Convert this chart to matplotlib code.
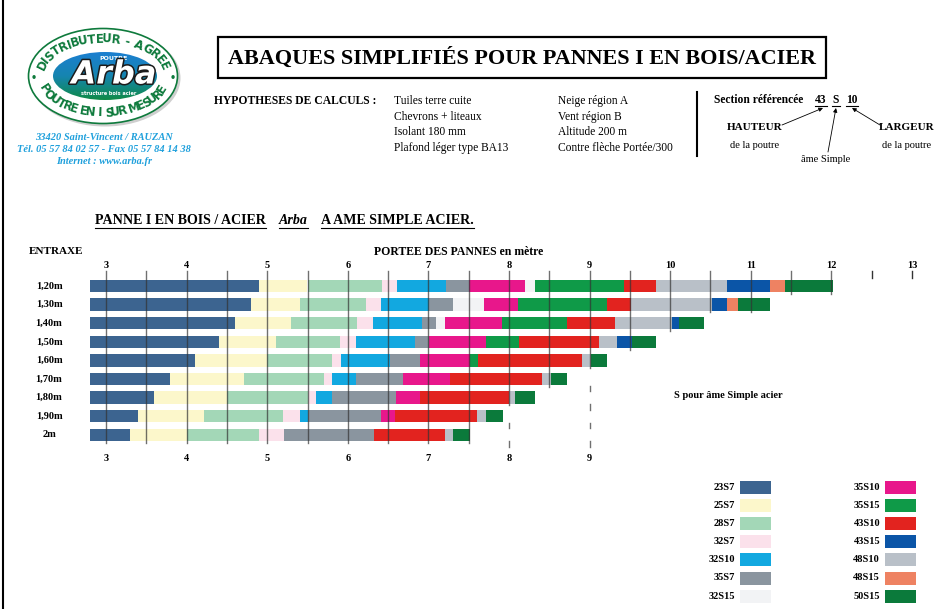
import numpy as np
import matplotlib
matplotlib.use("Agg")
import matplotlib.pyplot as plt
from matplotlib.patches import Ellipse, Rectangle
from matplotlib.colors import LinearSegmentedColormap
from matplotlib.textpath import TextPath
from matplotlib import patheffects as pe
from matplotlib import font_manager as fm

plt.rcParams["font.family"] = ["Liberation Serif", "DejaVu Serif"]

W, H = 939, 609

# --- data -------------------------------------------------------------
entraxes = ["1,20m", "1,30m", "1,40m", "1,50m", "1,60m", "1,70m", "1,80m", "1,90m", "2m"]

sections = ["23S7", "25S7", "28S7", "32S7", "32S10", "35S7", "32S15",
            "35S10", "35S15", "43S10", "43S15", "48S10", "48S15", "50S15"]
section_colors = ["#3c6490", "#fcf7cb", "#a3d7b7", "#fbe1eb", "#12a8e0", "#8a959f", "#f2f3f5",
                  "#e8178b", "#0f9a48", "#e2231f", "#0b55a7", "#b9c0c8", "#ee8262", "#0b7a3b"]

legend_left = ["23S7", "25S7", "28S7", "32S7", "32S10", "35S7", "32S15"]
legend_right = ["35S10", "35S15", "43S10", "43S15", "48S10", "48S15", "50S15"]

span_start = 2.8

row_sections = [
    ["23S7", "25S7", "28S7", "32S7", "32S10", "35S7", "35S10", "32S15", "35S15", "43S10", "48S10", "43S15", "48S15", "50S15"],
    ["23S7", "25S7", "28S7", "32S7", "32S10", "35S7", "32S15", "35S10", "35S15", "43S10", "48S10", "43S15", "48S15", "50S15"],
    ["23S7", "25S7", "28S7", "32S7", "32S10", "35S7", "32S15", "35S10", "35S15", "43S10", "48S10", "43S15", "50S15"],
    ["23S7", "25S7", "28S7", "32S7", "32S10", "35S7", "35S10", "35S15", "43S10", "48S10", "43S15", "50S15"],
    ["23S7", "25S7", "28S7", "32S7", "32S10", "35S7", "35S10", "35S15", "43S10", "48S10", "50S15"],
    ["23S7", "25S7", "28S7", "32S7", "32S10", "35S7", "35S10", "43S10", "48S10", "50S15"],
    ["23S7", "25S7", "28S7", "32S7", "32S10", "35S7", "35S10", "43S10", "48S10", "50S15"],
    ["23S7", "25S7", "28S7", "32S7", "32S10", "35S7", "35S10", "43S10", "48S10", "50S15"],
    ["23S7", "25S7", "28S7", "32S7", "35S7", "43S10", "48S10", "50S15"],
]
row_ends = [
    [4.90, 5.50, 6.42, 6.61, 7.22, 7.50, 8.20, 8.32, 9.43, 9.82, 10.71, 11.24, 11.43, 12.02],
    [4.80, 5.41, 6.22, 6.41, 7.01, 7.31, 7.69, 8.11, 9.21, 9.51, 10.52, 10.71, 10.84, 11.24],
    [4.60, 5.30, 6.11, 6.31, 6.92, 7.10, 7.20, 7.91, 8.72, 9.31, 10.02, 10.11, 10.42],
    [4.40, 5.11, 5.90, 6.10, 6.83, 7.01, 7.71, 8.12, 9.12, 9.34, 9.52, 9.82],
    [4.10, 5.00, 5.81, 5.91, 6.52, 6.90, 7.51, 7.61, 8.91, 9.02, 9.21],
    [3.80, 4.71, 5.70, 5.81, 6.10, 6.69, 7.27, 8.41, 8.52, 8.72],
    [3.60, 4.50, 5.50, 5.61, 5.81, 6.60, 6.90, 8.00, 8.07, 8.32],
    [3.40, 4.21, 5.19, 5.41, 5.51, 6.41, 6.59, 7.60, 7.71, 7.93],
    [3.30, 4.00, 4.90, 5.21, 6.33, 7.21, 7.31, 7.51],
]

top_ticks = list(range(3, 14))
bottom_ticks = list(range(3, 10))

hyp_col1 = ["Tuiles terre cuite", "Chevrons + liteaux", "Isolant 180 mm", "Plafond léger type BA13"]
hyp_col2 = ["Neige région A", "Vent région B", "Altitude 200 m", "Contre flèche Portée/300"]

color_of = dict(zip(sections, section_colors))

fig = plt.figure(figsize=(W / 100, H / 100), dpi=100)

# --- chart axes ---------------------------------------------------------
px_per_m = 80.6
x0_px, x3_px = 80, 106
row0_px, pitch = 286, 18.6
ax_top, ax_bot = 250, 470
ax = fig.add_axes([x0_px / W, 1 - ax_bot / H, (935 - x0_px) / W, (ax_bot - ax_top) / H])
ax.set_xlim(3 - (x3_px - x0_px) / px_per_m, 3 + (935 - x3_px) / px_per_m)
ax.set_ylim((ax_bot - row0_px) / pitch, (ax_top - row0_px) / pitch)
ax.axis("off")

bar_h = 0.67
for i, (secs, ends) in enumerate(zip(row_sections, row_ends)):
    starts = [span_start] + ends[:-1]
    for s, a, b in zip(secs, starts, ends):
        ax.barh(i, b - a, left=a, height=bar_h, color=color_of[s], linewidth=0, zorder=2)

# vertical graduation lines every 0.5 m
last_end = [e[-1] for e in row_ends]
for x in np.arange(3, 13.01, 0.5):
    last = -1
    for i, e in enumerate(last_end):
        if e >= x - 0.02:
            last = i
        else:
            break
    if last < 0:
        ax.plot([x, x], [-0.8, -0.45], color="#333", lw=1.0, zorder=3)
        continue
    ax.plot([x, x], [-0.8, last + 0.42], color="#333", lw=1.0, alpha=0.7, zorder=3)
    if float(x).is_integer() and x <= 9:
        for g in np.arange(last + 1.5, len(entraxes) + 0.01, 1.0):
            ax.plot([x, x], [g - 0.15, g + 0.15], color="#333", lw=1.0, alpha=0.7, zorder=3)

for t in top_ticks:
    ax.text(t, -1.08, str(t), ha="center", va="center", fontsize=7.5, weight="bold")
for t in bottom_ticks:
    ax.text(t, 9.3, str(t), ha="center", va="center", fontsize=7.5, weight="bold")
for i, lab in enumerate(entraxes):
    ax.text(3 + (49 - x3_px) / px_per_m, i, lab, ha="center", va="center",
            fontsize=7.5, weight="bold", clip_on=False)

# --- overlay in pixel coordinates ---------------------------------------------
ov = fig.add_axes([0, 0, 1, 1])
ov.set_xlim(0, W)
ov.set_ylim(H, 0)
ov.axis("off")

ov.plot([3, 3], [0, H], color="k", lw=1.5)

# logo
cx, cy = 103, 76
ov.add_patch(Ellipse((cx + 2, cy + 2), 151, 97, facecolor="#cfcfcf", edgecolor="none"))
ov.add_patch(Ellipse((cx, cy), 149, 95, facecolor="white", edgecolor="#0e7a3c", lw=1.2))
inner = Ellipse((cx + 2, cy), 104, 48, facecolor="none", edgecolor="white", lw=1.5)
ov.add_patch(inner)
grad = np.linspace(0, 1, 64).reshape(-1, 1)
cmap = LinearSegmentedColormap.from_list("logo", ["#1c7fd0", "#1685b0", "#0f8a48"])
im = ov.imshow(grad, cmap=cmap, extent=(cx - 50, cx + 54, cy + 24, cy - 24), aspect="auto", zorder=1)
im.set_clip_path(inner)
ov.set_xlim(0, W)
ov.set_ylim(H, 0)

ring_prop = fm.FontProperties(family="DejaVu Sans", weight="bold")
ring_kw = dict(fontsize=8.5, fontproperties=ring_prop, color="#0e7a3c", ha="center", va="center")


def arc_text(text, t0, t1, a, b):
    tt = np.linspace(np.radians(t0), np.radians(t1), 600)
    xs = a * np.cos(tt)
    ys = b * np.sin(tt)
    cum = np.concatenate([[0], np.cumsum(np.hypot(np.diff(xs), np.diff(ys)))])
    widths = np.array([TextPath((0, 0), ch if ch != " " else "n", prop=ring_prop, size=10).get_extents().width
                       for ch in text])
    widths[[c == " " for c in text]] *= 0.6
    widths += 1.5
    centers = (np.cumsum(widths) - widths / 2) / widths.sum() * cum[-1]
    for ch, s in zip(text, centers):
        t = np.interp(s, cum, tt)
        px = cx + a * np.cos(t)
        py = cy - b * np.sin(t)
        if t1 < t0:
            rot = np.degrees(np.arctan2(-b * np.cos(t), a * np.sin(t)))
        else:
            rot = np.degrees(np.arctan2(b * np.cos(t), -a * np.sin(t)))
        ov.text(px, py, ch, rotation=rot, rotation_mode="anchor", size=8.5,
                fontproperties=ring_prop, color="#0e7a3c", ha="center", va="center")


arc_text("DISTRIBUTEUR - AGREE", 170, 10, 63, 37)
arc_text("POUTRE EN I SUR MESURE", 196, 344, 63, 37)
ov.text(cx - 69, cy + 2, "•", size=7, fontproperties=ring_prop, color="#0e7a3c", ha="center", va="center")
ov.text(cx + 70, cy + 2, "•", size=7, fontproperties=ring_prop, color="#0e7a3c", ha="center", va="center")

ov.text(cx + 10, cy - 18, "POUTRE", fontsize=4.5, weight="bold", color="white",
        family="DejaVu Sans", ha="center", va="center")
ov.text(cx + 11, cy - 1, "Arba", fontsize=23, weight="bold", style="italic", color="white",
        family="DejaVu Sans", ha="center", va="center",
        path_effects=[pe.withStroke(linewidth=2.2, foreground="#1b1b1b")])
ov.text(cx + 6, cy + 17.5, "structure bois acier", fontsize=3.6, weight="bold", color="white",
        family="DejaVu Sans", ha="center", va="center")

blue_kw = dict(fontsize=7.5, weight="bold", style="italic", color="#1fa0dc", ha="center", va="center")
ov.text(104, 137, "33420 Saint-Vincent / RAUZAN", **blue_kw)
ov.text(104, 150, "Tél. 05 57 84 02 57 - Fax 05 57 84 14 38", **blue_kw)
ov.text(104, 162, "Internet : www.arba.fr", **blue_kw)

# title box
ov.add_patch(Rectangle((218, 37), 608, 41, facecolor="white", edgecolor="k", lw=1.6))
title = ov.text(522, 58, "ABAQUES SIMPLIFIÉS POUR PANNES I EN BOIS/ACIER", fontsize=18,
                ha="center", va="center", weight="bold")
fig.canvas.draw()
w_px = title.get_window_extent().width
title.set_fontsize(18 * 590 / w_px)

# hypotheses
ov.text(214, 101, "HYPOTHESES DE CALCULS :", fontsize=8.4, weight="bold", va="center")
for k, (l1, l2) in enumerate(zip(hyp_col1, hyp_col2)):
    yy = 101 + k * 15.7
    ov.text(394, yy, l1, fontsize=8.3, va="center")
    ov.text(558, yy, l2, fontsize=8.3, va="center")
ov.plot([697, 697], [92, 156], color="k", lw=1.5)

ov.text(714, 100, "Section référencée", fontsize=8.3, weight="bold", va="center")
ref_parts = [(820.5, "43"), (836, "S"), (851.5, "10")]
for xx, s in ref_parts:
    ov.text(xx, 100, s, fontsize=8.3, weight="bold", ha="center", va="center")
    hw = 6 if len(s) == 2 else 4
    ov.plot([xx - hw, xx + hw], [106, 106], color="k", lw=0.8)

ov.text(755, 128, "HAUTEUR", fontsize=8, weight="bold", ha="center", va="center")
ov.text(755, 145, "de la poutre", fontsize=7.5, ha="center", va="center")
ov.text(826, 160, "âme Simple", fontsize=7.5, ha="center", va="center")
ov.text(907, 128, "LARGEUR", fontsize=8, weight="bold", ha="center", va="center")
ov.text(907, 145, "de la poutre", fontsize=7.5, ha="center", va="center")
arrow_kw = dict(arrowstyle="-|>", lw=0.6, color="k", mutation_scale=6, shrinkA=0, shrinkB=0)
ov.annotate("", xy=(823, 108), xytext=(782, 125), arrowprops=arrow_kw)
ov.annotate("", xy=(836, 108), xytext=(828, 152), arrowprops=arrow_kw)
ov.annotate("", xy=(852, 108), xytext=(880, 125), arrowprops=arrow_kw)

# sub title
fig.canvas.draw()
ren = fig.canvas.get_renderer()
for xx, s, st in [(95, "PANNE I EN BOIS / ACIER", "normal"), (279, "Arba", "italic"),
                  (321, "A AME SIMPLE ACIER.", "normal")]:
    t = ov.text(xx, 220, s, fontsize=10.1, weight="bold", style=st, va="center")
    bb = t.get_window_extent(renderer=ren)
    ov.plot([bb.x0, bb.x1], [227.5, 227.5], color="k", lw=0.8)

ov.text(29, 252, "ENTRAXE", fontsize=8, weight="bold", va="center")
ov.text(459, 252, "PORTEE DES PANNES en mètre", fontsize=8.5, weight="bold", ha="center", va="center")
ov.text(728, 396, "S pour âme Simple acier", fontsize=7.5, weight="bold", ha="center", va="center")

# legend
for col, (lab_x, sw_x) in zip([legend_left, legend_right], [(735, 740), (880, 885)]):
    for k, s in enumerate(col):
        yy = 487 + k * 18.2
        ov.text(lab_x, yy, s, fontsize=7.5, weight="bold", ha="right", va="center")
        ov.add_patch(Rectangle((sw_x, yy - 6.5), 31, 13, facecolor=color_of[s], edgecolor="none"))

fig.savefig("out.png", dpi=100)
